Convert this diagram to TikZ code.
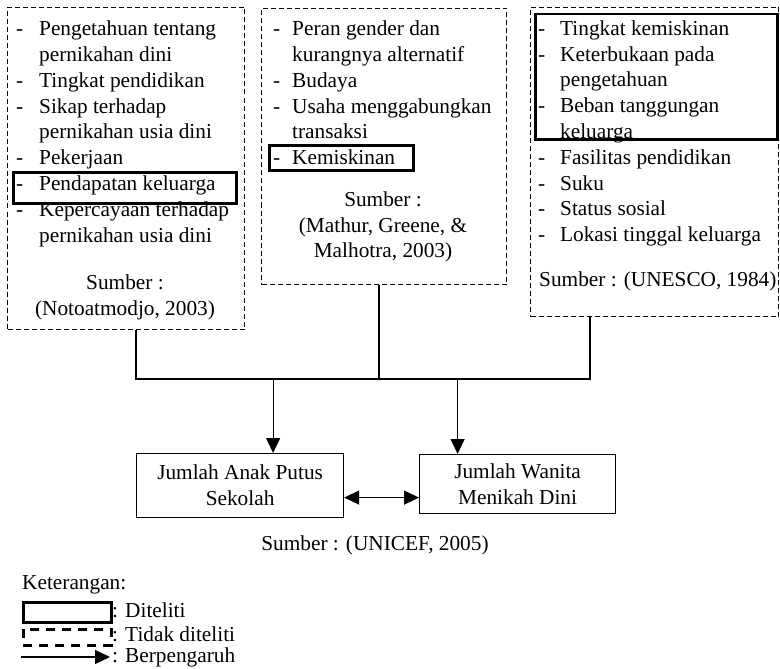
\documentclass[tikz,border=0pt]{standalone}
\usepackage{fontspec}
\setmainfont{Liberation Serif}
\usetikzlibrary{positioning,arrows.meta}

\begin{document}
\begin{tikzpicture}[
        x=1pt, y=-1pt,
        font=\fontsize{21.3}{25.8}\selectfont,
        faktor/.style={draw, dash pattern=on 5pt off 3pt, line width=1pt, anchor=north west, inner sep=0pt},
        daftar/.style={anchor=north west, inner sep=0pt, align=left},
        tanda/.style={draw, line width=2.5pt, anchor=north west, inner sep=0pt},
        hasil/.style={draw, line width=1.2pt, align=center, inner sep=0pt},
        sumber/.style={align=center, inner sep=0pt},
        garis/.style={line width=1.2pt},
        panah/.style={line width=1.2pt, -{Triangle[length=15pt,width=14pt]}}
    ]
    \useasboundingbox (0,0) rectangle (780,669);

    % kotak faktor
    \node[faktor, minimum width=237, minimum height=322] (F1) at (7,7) {};
    \node[faktor, minimum width=245, minimum height=276] (F2) at (261,8) {};
    \node[faktor, minimum width=248, minimum height=309] (F3) at (530,7) {};

    \node[daftar] (L1) at (16,17.5) {\begin{tabular}{@{}p{23pt}@{}l@{}}
        - & Pengetahuan tentang\\
          & pernikahan dini\\
        - & Tingkat pendidikan\\
        - & Sikap terhadap\\
          & pernikahan usia dini\\
        - & Pekerjaan\\
        - & Pendapatan keluarga\\
        - & Kepercayaan terhadap\\
          & pernikahan usia dini
    \end{tabular}};
    \node[daftar] (L2) at (273,17.5) {\begin{tabular}{@{}p{19pt}@{}l@{}}
        - & Peran gender dan\\
          & kurangnya alternatif\\
        - & Budaya\\
        - & Usaha menggabungkan\\
          & transaksi\\
        - & Kemiskinan
    \end{tabular}};
    \node[daftar] (L3) at (538,17) {\begin{tabular}{@{}p{22pt}@{}l@{}}
        - & Tingkat kemiskinan\\
        - & Keterbukaan pada\\
          & pengetahuan\\
        - & Beban tanggungan\\
          & keluarga\\
        - & Fasilitas pendidikan\\
        - & Suku\\
        - & Status sosial\\
        - & Lokasi tinggal keluarga
    \end{tabular}};

    \node[sumber] (S1) at (125,297) {Sumber :\\(Notoatmodjo, 2003)};
    \node[sumber] (S2) at (383,227) {Sumber :\\(Mathur, Greene, \&\\Malhotra, 2003)};
    \node[sumber, anchor=west] (S3) at (539,281) {Sumber : (UNESCO, 1984)};

    % yang diteliti
    \node[tanda, minimum width=223, minimum height=31] (T1) at (12,171) {};
    \node[tanda, minimum width=144, minimum height=25] (T2) at (268,144) {};
    \node[tanda, minimum width=242, minimum height=125] (T3) at (534,13) {};

    % variabel
    \node[hasil, minimum width=207, minimum height=64, anchor=north west] (A) at (136,453) {Jumlah Anak Putus\\Sekolah};
    \node[hasil, minimum width=196, minimum height=59, anchor=north west] (B) at (419,454) {Jumlah Wanita\\Menikah Dini};
    \node[sumber] (S4) at (375,545) {Sumber : (UNICEF, 2005)};

    \coordinate (busL) at (136,379);
    \coordinate (busM) at (379,379);
    \coordinate (busR) at (590,379);

    \draw[garis] (F1.south -| busL) -- (busL) -- (busR) -- (F3.south -| busR);
    \draw[garis] (F2.south -| busM) -- (busM);
    \draw[panah] ([xshift=33pt]A.north |- busL) -- ([xshift=33pt]A.north);
    \draw[panah] ([xshift=-60pt]B.north |- busL) -- ([xshift=-60pt]B.north);
    \draw[panah, {Triangle[length=15pt,width=14pt]}-{Triangle[length=15pt,width=14pt]}] ([yshift=-12pt]A.east) -- ([yshift=-12pt]A.east -| B.west);

    % keterangan
    \node[anchor=west, inner sep=0pt] (K) at (22,585) {Keterangan:};
    \node[draw, line width=2.5pt, minimum width=88, minimum height=20, anchor=north west, inner sep=0pt] (K1) at (22,601) {};
    \node[draw, line width=2.5pt, dash pattern=on 9pt off 7pt, minimum width=88, minimum height=16, anchor=north west, inner sep=0pt] (K2) at (22,628) {};
    \coordinate (K3a) at (21,657);
    \coordinate (K3b) at (110,657);
    \draw[panah] (K3a) -- (K3b);
    \node[anchor=west, inner sep=0pt] at (112,610) {: Diteliti};
    \node[anchor=west, inner sep=0pt] at (112,634) {: Tidak diteliti};
    \node[anchor=west, inner sep=0pt] at (112,657) {: Berpengaruh};
\end{tikzpicture}
\end{document}
